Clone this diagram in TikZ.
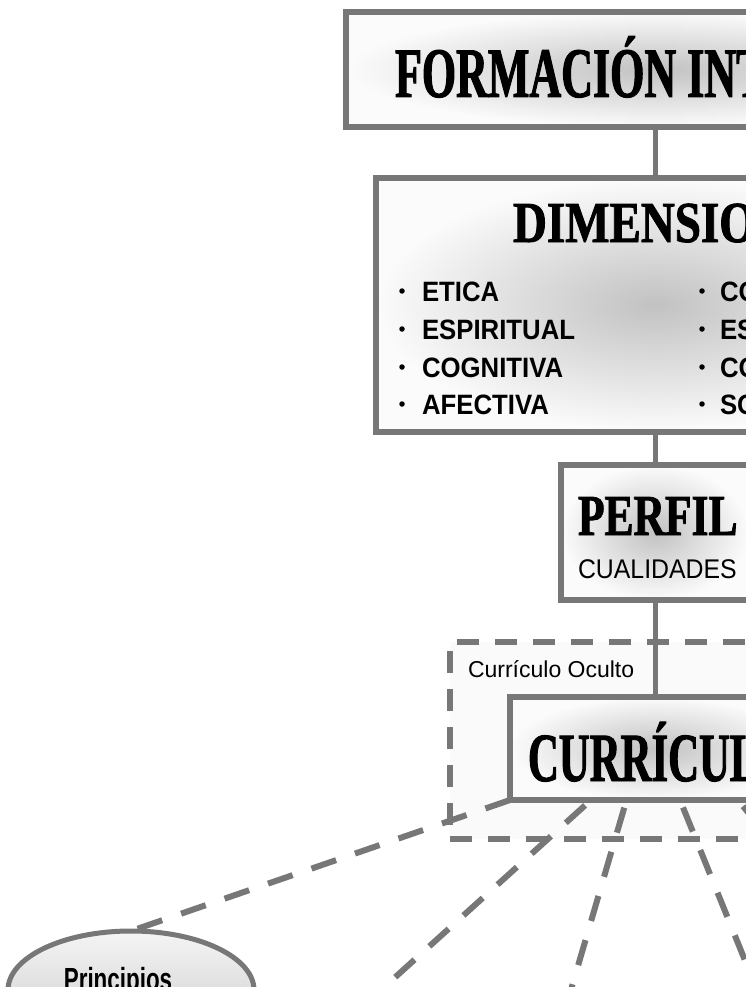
\documentclass[tikz,border=0pt]{standalone}
\usepackage{fontspec}
\setmainfont{Liberation Sans}
\newfontfamily\ttlA{Liberation Serif}[FakeStretch=0.62,FakeBold=1.4]
\newfontfamily\ttlB{Liberation Serif}[FakeStretch=0.75,FakeBold=1.4]
\newfontfamily\ttlC{Liberation Serif}[FakeStretch=0.81,FakeBold=1.4]
\newfontfamily\itemfont{Liberation Sans}[FakeStretch=0.92]
\newfontfamily\prinfont{Liberation Sans}[FakeStretch=0.7]
\usetikzlibrary{shapes.geometric,calc}
\definecolor{bord}{RGB}{119,119,119}
\begin{document}
\begin{tikzpicture}[x=1pt,y=-1pt,
  box/.style={draw=bord,line width=6pt,rectangle,inner sep=0pt,outer sep=0pt,
    inner color=gray!48,outer color=gray!3},
  link/.style={draw=bord,line width=5pt},
  dlink/.style={draw=bord,line width=6pt,dash pattern=on 26pt off 20pt},
  txt/.style={anchor=base west,inner sep=0pt,outer sep=0pt},
  itm/.style={txt,font=\itemfont\bfseries\fontsize{28}{28}\selectfont},
  bul/.style={circle,fill=black,inner sep=0pt,outer sep=0pt,minimum size=5.5pt}
]
\useasboundingbox (0,0) rectangle (746,987);
\clip (0,0) rectangle (746,987);
\fill[white] (0,0) rectangle (746,987);

% hidden curriculum frame
\node[draw=bord,line width=6pt,dash pattern=on 22pt off 16pt,fill=gray!4,
      inner sep=0pt,outer sep=0pt,minimum width=410pt,minimum height=197pt] (hid) at (655,740.5) {};

% boxes
\node[box,minimum width=618pt,minimum height=115pt] (b1) at (655,69.5) {};
\node[box,minimum width=558pt,minimum height=253.5pt] (b2) at (655,304.75) {};
\node[box,minimum width=188pt,minimum height=135pt] (b3) at (655,532.5) {};
\node[box,minimum width=290pt,minimum height=103pt] (cur) at (655,748.5) {};

% ellipse
\node[ellipse,draw=bord,line width=5pt,top color=gray!8,bottom color=gray!42,
      inner sep=0pt,outer sep=0pt,minimum width=246pt,minimum height=118pt] (pr) at (131,990) {};

% connectors
\draw[link] (b1.south) -- (b2.north);
\draw[link] (b2.south) -- (b3.north);
\draw[link] (b3.south) -- (cur.north);

\coordinate (s2) at (591,800);
\coordinate (e2) at (370,1000);
\coordinate (s3) at (626.5,800);
\coordinate (e3) at (568,1000);
\coordinate (s4) at (680,800);
\coordinate (e4) at (761,1000);
\coordinate (s5) at (738,800);
\coordinate (e5) at (900,1000);
\draw[dlink] (cur.south west) -- (pr.north);
\draw[dlink,dash phase=38pt] (s2) -- (e2);
\draw[dlink,dash phase=38pt] (s3) -- (e3);
\draw[dlink,dash phase=38pt] (s4) -- (e4);
\draw[dlink,dash phase=38pt] (s5) -- (e5);

% titles
\node[txt] (t1) at (395,97) {\ttlA\bfseries\fontsize{71}{71}\selectfont FORMACIÓN INT};
\node[txt] (t2) at (513,242) {\ttlC\bfseries\fontsize{58}{58}\selectfont DIMENSION};
\node[txt] (t3) at (578,535) {\ttlB\bfseries\fontsize{58}{58}\selectfont PERFIL};
\node[txt] (t3b) at (578,578) {\itemfont\fontsize{27}{27}\selectfont CUALIDADES};
\node[txt] (t4) at (528,781) {\ttlA\bfseries\fontsize{69}{69}\selectfont CURRÍCUL};
\node[txt] (oc) at (468,677) {\fontsize{23}{23}\selectfont Currículo Oculto};
\node[anchor=base,inner sep=0pt] (prt) at (118,990) {\prinfont\bfseries\fontsize{32}{32}\selectfont Principios};

% items
\node[bul] (ba1) at (402,291) {};
\node[bul] (ba2) at (402,329) {};
\node[bul] (ba3) at (402,367) {};
\node[bul] (ba4) at (402,404) {};
\node[itm] (ia1) at (422,301) {ETICA};
\node[itm] (ia2) at (422,339) {ESPIRITUAL};
\node[itm] (ia3) at (422,377) {COGNITIVA};
\node[itm] (ia4) at (422,414) {AFECTIVA};
\node[bul] (bb1) at (702,291) {};
\node[bul] (bb2) at (702,329) {};
\node[bul] (bb3) at (702,367) {};
\node[bul] (bb4) at (702,404) {};
\node[itm] (ib1) at (720,301) {CO};
\node[itm] (ib2) at (720,339) {ES};
\node[itm] (ib3) at (720,377) {CO};
\node[itm] (ib4) at (720,414) {SO};
\end{tikzpicture}
\end{document}
